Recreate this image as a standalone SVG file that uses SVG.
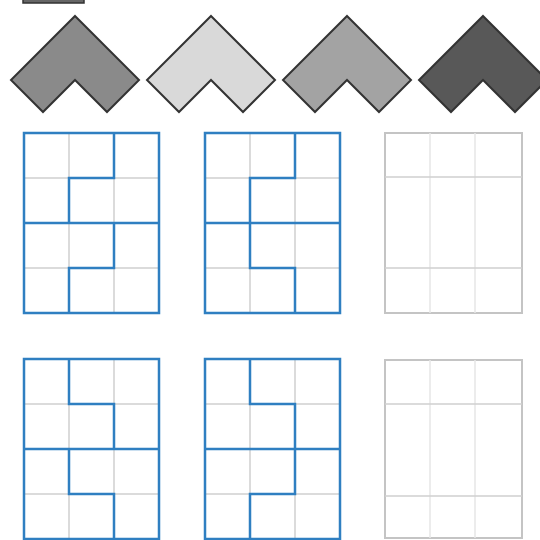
<svg xmlns="http://www.w3.org/2000/svg" width="540" height="540" viewBox="0 0 540 540">
<defs>
<style>
.chev{stroke:#333;stroke-width:2;stroke-linejoin:miter}
.g{stroke:#cfcfcf;stroke-width:1.5;fill:none}
.gl{stroke:#e6e6e6;stroke-width:1.5;fill:none}
.gb{stroke:#c4c4c4;stroke-width:2;fill:#fff}
.b{stroke:#2f7fc1;stroke-width:2.5;fill:none;stroke-linecap:square}
</style>
<path id="chevShape" d="M0 0 L64 64 L32 96 L0 64 L-32 96 L-64 64 Z"/>
</defs>
<rect width="540" height="540" fill="#fff"/>
<g id="bar"><rect x="23" y="-10" width="61" height="13" fill="#666" stroke="#333" stroke-width="1.5"/></g>
<g id="chevrons">
<use href="#chevShape" class="chev" x="75" y="16" fill="#8a8a8a"/>
<use href="#chevShape" class="chev" x="211" y="16" fill="#d9d9d9"/>
<use href="#chevShape" class="chev" x="347" y="16" fill="#a3a3a3"/>
<use href="#chevShape" class="chev" x="483" y="16" fill="#585858"/>
</g>
<g id="grid1">
<rect x="24" y="133" width="135" height="180" fill="#fff"/>
<path class="g" d="M69 133V313M114 133V313M24 178H159M24 268H159"/>
<path class="b" d="M24 133H159V313H24Z M114 133V178H69V223M24 223H159M114 223V268H69V313"/>
</g>
<g id="grid2">
<rect x="205" y="133" width="135" height="180" fill="#fff"/>
<path class="g" d="M250 133V313M295 133V313M205 178H340M205 268H340"/>
<path class="b" d="M205 133H340V313H205Z M295 133V178H250V268H295V313M205 223H340"/>
</g>
<g id="grid3">
<rect class="gb" x="385" y="133" width="137" height="180"/>
<path class="gl" d="M430 133V313M475 133V313"/>
<path class="g" d="M385 177H522M385 268H522"/>
</g>
<g id="grid4">
<rect x="24" y="359" width="135" height="180" fill="#fff"/>
<path class="g" d="M69 359V539M114 359V539M24 404H159M24 494H159"/>
<path class="b" d="M24 359H159V539H24Z M69 359V404H114V449M24 449H159M69 449V494H114V539"/>
</g>
<g id="grid5">
<rect x="205" y="359" width="135" height="180" fill="#fff"/>
<path class="g" d="M250 359V539M295 359V539M205 404H340M205 494H340"/>
<path class="b" d="M205 359H340V539H205Z M250 359V404H295V494H250V539M205 449H340"/>
</g>
<g id="grid6">
<rect class="gb" x="385" y="360" width="137" height="178"/>
<path class="gl" d="M430 360V538M475 360V538"/>
<path class="g" d="M385 404H522M385 496H522"/>
</g>
</svg>
